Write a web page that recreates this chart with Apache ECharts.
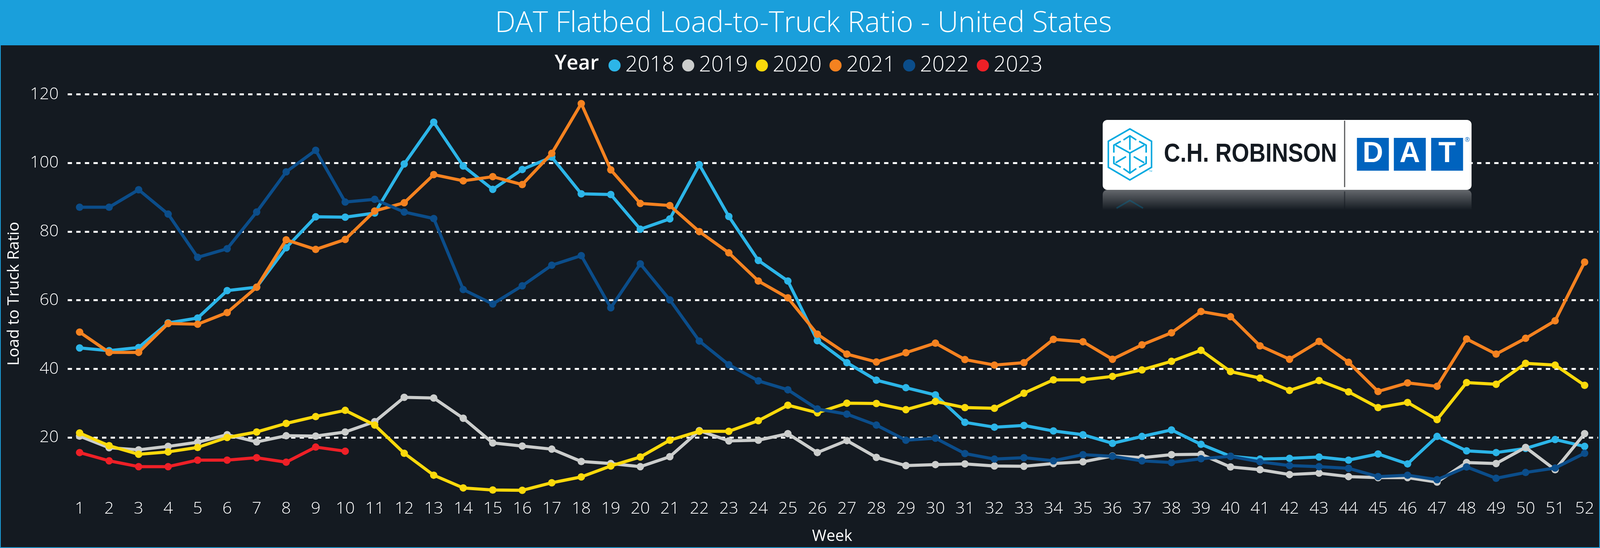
<!DOCTYPE html>
<html>
<head>
<meta charset="utf-8">
<title>DAT Flatbed Load-to-Truck Ratio - United States</title>
<script src="https://cdn.jsdelivr.net/npm/echarts@6/dist/echarts.min.js"></script>
<style>
html, body { margin: 0; padding: 0; background: #141a21; overflow: hidden; }
#main { width: 100vw; height: 100vh; }
</style>
</head>
<body>
<div id="main"></div>
<script>
var weeks = ['1','2','3','4','5','6','7','8','9','10','11','12','13','14','15','16','17','18','19','20','21','22','23','24','25','26','27','28','29','30','31','32','33','34','35','36','37','38','39','40','41','42','43','44','45','46','47','48','49','50','51','52'];
var years = ['2018','2019','2020','2021','2022','2023'];
var yearColors = ['#2cb5e8','#cbcdcc','#fbd90b','#f58220','#0b4d8a','#ee2027'];

var y2018 = [46.1,45.3,46.2,53.4,54.8,62.8,63.8,75.3,84.3,84.2,85.4,99.7,111.9,99.1,92.3,98.1,101.7,91,90.8,80.7,83.7,99.5,84.4,71.6,65.6,48.2,41.8,36.7,34.5,32.4,24.4,23,23.5,21.9,20.8,18.3,20.3,22.2,18,14.5,13.7,13.9,14.3,13.4,15.2,12.3,20.3,16.1,15.6,16.8,19.4,17.4];
var y2019 = [20.4,17,16.4,17.4,18.6,20.8,18.7,20.5,20.4,21.6,24.6,31.7,31.5,25.6,18.4,17.5,16.6,13,12.4,11.5,14.4,22,19,19.2,21.1,15.6,19.1,14.2,11.8,12.1,12.3,11.7,11.6,12.4,12.9,14.6,14.1,15,15.1,11.4,10.6,9.2,9.6,8.6,8.3,8.3,7,12.7,12.4,17.1,10.6,21.1];
var y2020 = [21.3,17.6,15.1,15.8,17.1,20,21.6,24.1,26.1,27.9,23.6,15.4,9,5.3,4.7,4.6,6.8,8.5,11.7,14.3,19.2,21.8,21.8,24.9,29.4,27.2,30,29.9,28.1,30.5,28.7,28.5,32.9,36.8,36.8,37.8,39.7,42.2,45.4,39.2,37.3,33.7,36.6,33.3,28.7,30.2,25.2,36,35.5,41.6,41.1,35.2];
var y2021 = [50.7,44.8,44.8,53.2,53,56.4,63.8,77.6,74.8,77.7,86,88.4,96.6,94.8,96,93.7,102.8,117.3,98,88.2,87.6,80,73.8,65.6,60.7,50.1,44.3,42,44.7,47.5,42.7,41.1,41.8,48.6,47.9,42.8,47,50.5,56.7,55.2,46.7,42.8,48,41.9,33.4,35.9,34.9,48.7,44.3,48.9,54,71.1];
var y2022 = [87.1,87.1,92.2,85.1,72.5,75,85.7,97.4,103.7,88.6,89.4,85.7,83.8,63.1,58.9,64.2,70.2,73,57.8,70.6,60.1,48.1,41.2,36.5,33.9,28.3,26.8,23.6,19.2,19.8,15.3,13.7,14.1,13.2,15,14.5,13.2,12.7,13.8,14.5,12.9,11.8,11.5,11,8.6,9,7.7,11.4,8.1,9.8,11.1,15.4];
var y2023 = [15.6,13.2,11.5,11.5,13.4,13.4,14.1,12.8,17.2,16];
var yearValues = [y2018, y2019, y2020, y2021, y2022, y2023];

var font = '"Open Sans", sans-serif';
var chart = echarts.init(document.getElementById('main'), null, { renderer: 'canvas' });

// the browser window can come out narrower than the 4160 design width
var W = chart.getWidth();
var H = chart.getHeight();
var sx = W / 4160;

var series = [];
for (var i = 0; i < years.length; i++) {
    series.push({
        name: years[i],
        type: 'line',
        xAxisIndex: 1,
        yAxisIndex: 1,
        data: yearValues[i],
        symbol: 'circle',
        symbolSize: 19,
        showSymbol: true,
        animation: false,
        z: 3 + i,
        lineStyle: { width: 8, color: yearColors[i], join: 'round' },
        itemStyle: { color: yearColors[i] }
    });
}

// logo pieces, hex mark drawn in a local 3x frame
function logoLine(pts) {
    return { type: 'polyline', z: 21, shape: { points: pts }, style: { stroke: '#00a9e0', lineWidth: 12, fill: null } };
}
var hexMark = {
    type: 'group', x: 2860, y: 300, scaleX: 1 / 3, scaleY: 1 / 3,
    children: [
        { type: 'polygon', z: 21, shape: { points: [[233,90],[402,185],[402,385],[233,482],[65,385],[65,185]] }, style: { stroke: '#00a9e0', lineWidth: 12, fill: null } },
        logoLine([[233,140],[233,250]]),
        logoLine([[233,275],[233,430]]),
        logoLine([[183,175],[233,143],[283,175]]),
        logoLine([[122,215],[233,275],[345,215]]),
        logoLine([[305,185],[360,215],[360,272]]),
        logoLine([[162,185],[108,215],[108,272]]),
        logoLine([[203,303],[122,350]]),
        logoLine([[263,303],[345,350]]),
        logoLine([[108,300],[108,355],[162,385]]),
        logoLine([[360,300],[360,355],[305,385]]),
        logoLine([[183,395],[233,430],[283,395]]),
        { type: 'text', z: 21, x: 395, y: 415, style: { text: 'TM', fill: '#00a9e0', font: '18px ' + font, align: 'center', verticalAlign: 'middle' } }
    ]
};

function datBox(x, letter) {
    return [
        { type: 'rect', z: 21, shape: { x: x, y: 353, width: 83, height: 84 }, style: { fill: '#0063be' } },
        { type: 'text', z: 22, x: x + 41.5, y: 395, style: { text: letter, fill: '#fff', font: 'bold 74px "Liberation Sans", sans-serif', align: 'center', verticalAlign: 'middle' } }
    ];
}

var logo = {
    type: 'group', x: 0, y: 0, scaleX: sx, scaleY: 1,
    children: [
        { type: 'rect', z: 20, shape: { x: 2867, y: 307, width: 959, height: 179, r: 12 }, style: { fill: '#fff' } },
        { type: 'rect', z: 20, shape: { x: 2867, y: 486, width: 959, height: 52, r: [12, 12, 0, 0] }, style: { fill: new echarts.graphic.LinearGradient(0, 0, 0, 1, [{ offset: 0, color: 'rgba(255,255,255,0.34)' }, { offset: 1, color: 'rgba(255,255,255,0)' }]) } },
        { type: 'polyline', z: 21, shape: { points: [[2903,533],[2937.7,513],[2972,533]] }, style: { stroke: 'rgba(0,120,170,0.35)', lineWidth: 4, fill: null } },
        { type: 'line', z: 21, shape: { x1: 3496, y1: 490, x2: 3496, y2: 535 }, style: { stroke: 'rgba(20,26,33,0.55)', lineWidth: 3 } },
        hexMark,
        { type: 'text', z: 21, x: 3026, y: 396, scaleX: 0.89, style: { text: 'C.H. ROBINSON', fill: '#141a21', font: 'bold 66px "Liberation Sans", sans-serif', verticalAlign: 'middle' } },
        { type: 'line', z: 21, shape: { x1: 3496, y1: 309, x2: 3496, y2: 479 }, style: { stroke: '#58595b', lineWidth: 3 } },
        { type: 'text', z: 21, x: 3815, y: 358, style: { text: '®', fill: '#0063be', font: '16px ' + font, align: 'center', verticalAlign: 'middle' } }
    ].concat(datBox(3528, 'D'), datBox(3624, 'A'), datBox(3721, 'T'))
};

var graphics = [
    { type: 'rect', z: 0, shape: { x: 0, y: 0, width: W, height: 115 }, style: { fill: '#1a9fdb' } },
    { type: 'rect', z: 0, shape: { x: 1, y: 115, width: W - 2, height: H - 116 }, style: { fill: null, stroke: '#1a9fdb', lineWidth: 2 } },
    { type: 'text', z: 5, x: 1442 * sx, y: 163, style: { text: 'Year', fill: '#fff', font: '600 52px ' + font, verticalAlign: 'middle' } },
    { type: 'text', z: 5, x: 36, y: 752, rotation: Math.PI / 2, style: { text: 'Load to Truck Ratio', fill: '#fff', font: '41px ' + font, align: 'center', verticalAlign: 'middle' } },
    logo
];

var option = {
    backgroundColor: '#141a21',
    animation: false,
    title: {
        text: 'DAT Flatbed Load-to-Truck Ratio - United States',
        left: 2084 * sx,
        top: 19,
        textAlign: 'center',
        textStyle: { color: '#fff', fontFamily: font, fontWeight: 300, fontSize: 74 }
    },
    legend: {
        data: years,
        left: 1577 * sx,
        top: 135,
        icon: 'circle',
        itemWidth: 31,
        itemHeight: 31,
        itemGap: 20,
        textStyle: { color: '#fff', fontFamily: font, fontWeight: 300, fontSize: 55, padding: [0, 0, 0, 7] }
    },
    grid: [
        // gridlines run a little narrower than the week bands
        { left: 176 * sx, right: 5 * sx, top: 241.5, bottom: 107.3, outerBoundsMode: 'none' },
        { left: 168.6 * sx, right: 1.6 * sx, top: 241.5, bottom: 107.3, outerBoundsMode: 'none' }
    ],
    xAxis: [
        { type: 'category', gridIndex: 0, data: weeks, show: false },
        {
            type: 'category',
            gridIndex: 1,
            data: weeks,
            boundaryGap: true,
            name: 'Week',
            nameLocation: 'middle',
            nameGap: 58,
            nameMoveOverlap: false,
            nameTextStyle: { color: '#fff', fontFamily: font, fontSize: 40 },
            axisLine: { show: false },
            axisTick: { show: false },
            axisLabel: { color: '#fff', fontFamily: font, fontWeight: 300, fontSize: 43, margin: -14, interval: 0 }
        }
    ],
    yAxis: [
        {
            type: 'value',
            gridIndex: 0,
            min: 0,
            max: 120,
            interval: 20,
            axisLine: { show: false },
            axisTick: { show: false },
            axisLabel: { color: '#fff', fontFamily: font, fontWeight: 300, fontSize: 43, margin: 23, showMinLabel: false },
            splitLine: { show: true, showMinLine: false, lineStyle: { color: '#fff', type: [11, 11], width: 5 } }
        },
        { type: 'value', gridIndex: 1, min: 0, max: 120, show: false, splitLine: { show: false } }
    ],
    graphic: graphics,
    series: series
};

chart.setOption(option);
</script>
</body>
</html>
